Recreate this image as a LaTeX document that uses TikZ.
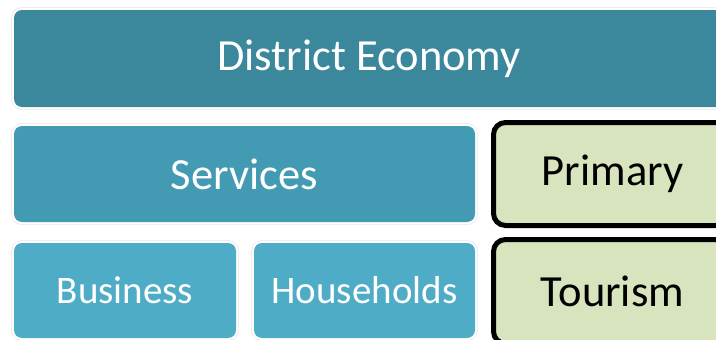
\documentclass[tikz,border=0pt]{standalone}
\usepackage{fontspec}
\setmainfont{Carlito}
\definecolor{econteal}{RGB}{59,135,156}
\definecolor{servteal}{RGB}{66,155,179}
\definecolor{subteal}{RGB}{79,172,198}
\definecolor{sectgreen}{RGB}{215,228,189}
\begin{document}
\begin{tikzpicture}[x=1pt,y=-1pt]
	\tikzstyle{glow}=[preaction={draw=black!7,line width=6pt},preaction={draw=white,line width=4pt}]
	\tikzstyle{blockbig}=[rectangle,rounded corners=8pt,glow,text=white,inner sep=0pt,font=\fontsize{44.5pt}{50pt}\selectfont]
	\tikzstyle{blocksmall}=[blockbig,font=\fontsize{39pt}{44pt}\selectfont]
	\tikzstyle{sector}=[rectangle,rounded corners=12pt,draw=black,line width=5pt,fill=sectgreen,text=black,inner sep=0pt,font=\fontsize{44.5pt}{50pt}\selectfont]

	\useasboundingbox (0,0) rectangle (716,340);
	\clip (0,0) rectangle (716,340);

	\node [blockbig,fill=econteal,minimum width=710pt,minimum height=97pt] (economy) at (369,58.5) {District Economy};
	\node [blockbig,fill=servteal,minimum width=461pt,minimum height=96pt] (services) at (244.5,174) {Services};
	\node [blocksmall,fill=subteal,minimum width=222pt,minimum height=95pt] (business) at (125,290.5) {Business};
	\node [blocksmall,fill=subteal,minimum width=221pt,minimum height=95pt] (households) at (364.5,290.5) {Households};

	\node [sector,minimum width=238pt,minimum height=103pt] (primary) at (612.5,174) {Primary};
	\node [sector,minimum width=238pt,minimum height=104pt] (tourism) at (612.5,291.5) {Tourism};

\end{tikzpicture}
\end{document}
